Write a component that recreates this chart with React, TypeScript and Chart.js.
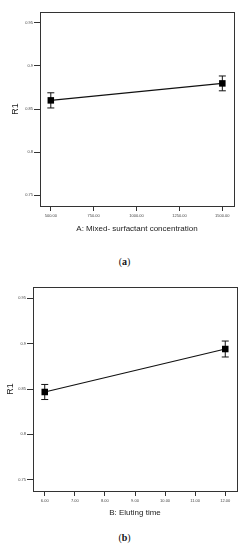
import React, { useEffect, useRef } from "react";
import { Chart, registerables } from "chart.js";

Chart.register(...registerables);

// ---- Data: panel (a)
const aX = [500, 1500];
const aY = [0.86, 0.8797];
const aErr = [0.0088, 0.0086];
const aXTicks = [500, 750, 1000, 1250, 1500];
const aXTickLabels = ["500.00", "750.00", "1000.00", "1250.00", "1500.00"];
const aXTitle = "A: Mixed- surfactant concentration";

// ---- Data: panel (b)
const bX = [6, 12];
const bY = [0.8467, 0.8941];
const bErr = [0.0083, 0.0088];
const bXTicks = [6, 7, 8, 9, 10, 11, 12];
const bXTickLabels = ["6.00", "7.00", "8.00", "9.00", "10.00", "11.00", "12.00"];
const bXTitle = "B: Eluting time";

// ---- shared y axis
const yTicks = [0.75, 0.8, 0.85, 0.9, 0.95];
const yTickLabels = ["0.75", "0.8", "0.85", "0.9", "0.95"];
const yTitle = "R1";

const boxPlugin = {
  id: "boxPlugin",
  afterDraw(chart: any) {
    const { ctx, chartArea: a } = chart;
    ctx.save();
    ctx.strokeStyle = "#333";
    ctx.lineWidth = 1;
    ctx.strokeRect(Math.round(a.left) + 0.5, Math.round(a.top) + 0.5, Math.round(a.right - a.left), Math.round(a.bottom - a.top));
    ctx.restore();
  },
};

const errPlugin = {
  id: "errPlugin",
  beforeDatasetsDraw(chart: any) {
    const ds = chart.data.datasets[0];
    const errs: number[] = ds.errors;
    const xs = chart.scales.x;
    const ys = chart.scales.y;
    const ctx = chart.ctx;
    ctx.save();
    ctx.strokeStyle = "#111";
    ctx.lineWidth = 1;
    ds.data.forEach((p: any, i: number) => {
      const x = xs.getPixelForValue(p.x);
      const yh = ys.getPixelForValue(p.y + errs[i]);
      const yl = ys.getPixelForValue(p.y - errs[i]);
      ctx.beginPath();
      ctx.moveTo(x, yh);
      ctx.lineTo(x, yl);
      ctx.moveTo(x - 3.5, yh);
      ctx.lineTo(x + 3.5, yh);
      ctx.moveTo(x - 3.5, yl);
      ctx.lineTo(x + 3.5, yl);
      ctx.stroke();
    });
    ctx.restore();
  },
};

type PanelProps = {
  xs: number[];
  ys: number[];
  errs: number[];
  xTicks: number[];
  xTickLabels: string[];
  xTitle: string;
  xMin: number;
  xMax: number;
  height: number;
  padTop: number;
  padRight: number;
  yWidth: number;
  xHeight: number;
  yTitlePad: number;
  xTitlePadBottom: number;
};

function Panel(p: PanelProps) {
  const ref = useRef<HTMLCanvasElement>(null);
  useEffect(() => {
    const font = "'Liberation Sans', Arial, sans-serif";
    const chart = new Chart(ref.current!, {
      type: "line",
      data: {
        datasets: [
          {
            data: p.xs.map((x, i) => ({ x, y: p.ys[i] })),
            errors: p.errs,
            borderColor: "#111",
            borderWidth: 1.2,
            pointStyle: "rect",
            pointRadius: 4.6,
            pointBackgroundColor: "#000",
            pointBorderColor: "#000",
            pointBorderWidth: 0,
          } as any,
        ],
      },
      options: {
        animation: false,
        responsive: false,
        maintainAspectRatio: false,
        layout: { padding: { top: p.padTop, right: p.padRight, left: 0, bottom: 0 } },
        plugins: { legend: { display: false }, tooltip: { enabled: false } },
        scales: {
          x: {
            type: "linear",
            min: p.xMin,
            max: p.xMax,
            afterBuildTicks: (s: any) => {
              s.ticks = p.xTicks.map((v) => ({ value: v }));
            },
            afterFit: (s: any) => {
              s.height = p.xHeight;
            },
            ticks: {
              autoSkip: false,
              maxRotation: 0,
              padding: 2,
              color: "#444",
              font: { family: font, size: 4 },
              callback: (v: any) => p.xTickLabels[p.xTicks.indexOf(Number(v))] ?? "",
            },
            grid: { drawOnChartArea: false, drawTicks: true, tickLength: 5, color: "#333" },
            border: { display: false },
            title: {
              display: true,
              text: p.xTitle,
              color: "#222",
              font: { family: font, size: 8 },
              padding: { top: 0, bottom: p.xTitlePadBottom },
            },
          },
          y: {
            type: "linear",
            min: 0.7375,
            max: 0.9625,
            afterBuildTicks: (s: any) => {
              s.ticks = yTicks.map((v) => ({ value: v }));
            },
            afterFit: (s: any) => {
              s.width = p.yWidth;
            },
            ticks: {
              autoSkip: false,
              padding: 1,
              color: "#444",
              font: { family: font, size: 4 },
              callback: (v: any) => yTickLabels[yTicks.indexOf(Number(v))] ?? "",
            },
            grid: { drawOnChartArea: false, drawTicks: true, tickLength: 6, color: "#333" },
            border: { display: false },
            title: {
              display: true,
              text: yTitle,
              color: "#222",
              font: { family: font, size: 9 },
              padding: { top: p.yTitlePad, bottom: 0 },
            },
          },
        },
      } as any,
      plugins: [boxPlugin, errPlugin],
    });
    return () => chart.destroy();
  }, []);
  return <canvas ref={ref} width={249} height={p.height} style={{ display: "block", width: 249, height: p.height }} />;
}

const captionStyle: React.CSSProperties = {
  position: "absolute",
  left: 0,
  width: 249,
  textAlign: "center",
  fontFamily: "'Liberation Serif', 'Times New Roman', serif",
  fontSize: 10,
  lineHeight: "12px",
  color: "#111",
};

export default function App() {
  return (
    <div style={{ position: "absolute", left: 0, top: 0, width: 249, height: 550, background: "#fff", overflow: "hidden" }}>
      <div style={{ position: "absolute", left: 0, top: 0 }}>
        <Panel
          xs={aX}
          ys={aY}
          errs={aErr}
          xTicks={aXTicks}
          xTickLabels={aXTickLabels}
          xTitle={aXTitle}
          xMin={437}
          xMax={1568}
          height={245}
          padTop={12}
          padRight={15}
          yWidth={40}
          xHeight={39}
          yTitlePad={10}
          xTitlePadBottom={11}
        />
      </div>
      <div style={{ ...captionStyle, top: 256 }}>
        (<b>a</b>)
      </div>
      <div style={{ position: "absolute", left: 0, top: 270 }}>
        <Panel
          xs={bX}
          ys={bY}
          errs={bErr}
          xTicks={bXTicks}
          xTickLabels={bXTickLabels}
          xTitle={bXTitle}
          xMin={5.61}
          xMax={12.39}
          height={250}
          padTop={17}
          padRight={12}
          yWidth={33}
          xHeight={29}
          yTitlePad={5}
          xTitlePadBottom={2}
        />
      </div>
      <div style={{ ...captionStyle, top: 532 }}>
        (<b>b</b>)
      </div>
    </div>
  );
}
